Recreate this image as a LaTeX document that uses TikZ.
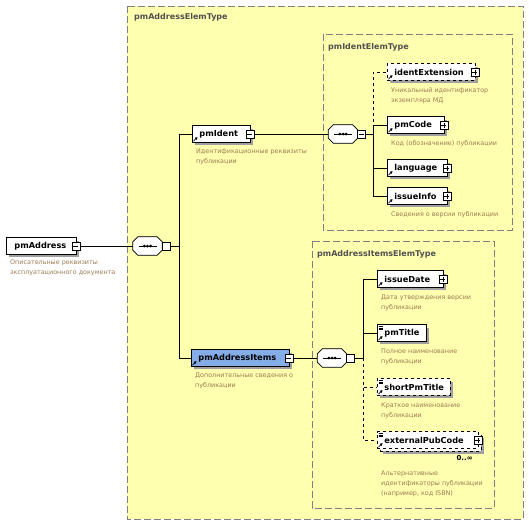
\documentclass[tikz,border=0pt]{standalone}
\usepackage{fontspec}
\setmainfont{DejaVu Sans}
\usetikzlibrary{shadows,arrows.meta}
\definecolor{typefill}{HTML}{FFFFB0}
\definecolor{typeline}{HTML}{7F7F7F}
\definecolor{typetext}{HTML}{505050}
\definecolor{annot}{HTML}{9C7B52}
\definecolor{itemsfill}{HTML}{84ACE6}
\definecolor{shade}{HTML}{A0A0A0}

\begin{document}
\begin{tikzpicture}[x=1pt, y=-1pt,
    elem/.style={draw, fill=white, line width=0.8pt, minimum height=16.5pt, inner xsep=0pt, inner ysep=0pt,
        align=left, font=\fontsize{8.2}{9}\selectfont\bfseries,
        drop shadow={shadow xshift=3pt, shadow yshift=-3pt, fill=shade, opacity=1}},
    optelem/.style={elem, dashed},
    typebox/.style={draw=typeline, fill=typefill, dash pattern=on 7pt off 3pt, line width=0.8pt},
    typename/.style={anchor=north west, text=typetext, inner sep=0pt, font=\fontsize{8}{9}\selectfont\bfseries},
    annotation/.style={anchor=north west, text=annot, align=left, inner sep=0pt, font=\fontsize{6.4}{10}\selectfont},
    seq/.style={minimum width=29pt, minimum height=18pt, inner sep=0pt},
    icon/.style={draw, fill=white, line width=0.6pt, minimum size=8pt, inner sep=0pt},
    minusicon/.style={icon, path picture={
            \draw ([xshift=1.5pt]path picture bounding box.west) -- ([xshift=-1.5pt]path picture bounding box.east);}},
    plusicon/.style={icon, path picture={
            \draw ([xshift=1.5pt]path picture bounding box.west) -- ([xshift=-1.5pt]path picture bounding box.east);
            \draw ([yshift=1.5pt]path picture bounding box.south) -- ([yshift=-1.5pt]path picture bounding box.north);}},
    conn/.style={line width=0.8pt}
]
    \useasboundingbox (0,0) rectangle (529,527);

    % type boxes
    \draw[typebox] (127,6) rectangle (523,519);
    \node[typename] (addrType) at (134,13) {pmAddressElemType};
    \draw[typebox] (323,34) rectangle (512,230);
    \node[typename] (identType) at (328,43) {pmIdentElemType};
    \draw[typebox] (312,241) rectangle (494,508);
    \node[typename] (itemsType) at (317,250) {pmAddressItemsElemType};

    % elements
    \node[elem, anchor=west, text width=70pt] (pmAddress) at (6,246) {\hspace*{8pt}pmAddress};
    \node[elem, anchor=west, text width=58pt] (pmIdent) at (192,134) {\hspace*{7pt}pmIdent};
    \node[elem, anchor=west, text width=98pt, fill=itemsfill] (pmAddressItems) at (191,358) {\hspace*{7pt}pmAddressItems};

    \node[optelem, anchor=west, text width=88pt] (identExtension) at (387,72) {\hspace*{7pt}identExtension};
    \node[elem, anchor=west, text width=57pt] (pmCode) at (387,125) {\hspace*{7pt}pmCode};
    \node[elem, anchor=west, text width=60pt] (language) at (387,168) {\hspace*{7pt}language};
    \node[elem, anchor=west, text width=60pt] (issueInfo) at (387,196) {\hspace*{7pt}issueInfo};

    \node[elem, anchor=west, text width=66pt] (issueDate) at (377,279) {\hspace*{7pt}issueDate};
    \node[elem, anchor=west, text width=49pt] (pmTitle) at (377,333) {\hspace*{7pt}pmTitle};
    \node[optelem, anchor=west, text width=73pt] (shortPmTitle) at (377,387) {\hspace*{7pt}shortPmTitle};
    \node[optelem, anchor=west, text width=101pt,
        drop shadow={shadow xshift=6pt, shadow yshift=-6pt, fill=shade, opacity=1},
        copy shadow={shadow xshift=3pt, shadow yshift=-3pt}] (externalPubCode) at (377,440) {\hspace*{7pt}externalPubCode};
    \node[anchor=north east, inner sep=0pt, font=\fontsize{7}{8}\selectfont\bfseries] (extMult)
        at ([shift={(-6pt,-6pt)}]externalPubCode.south east) {0..∞};

    % expand icons
    \node[minusicon] (pmAddressIc) at ([xshift=-1pt]pmAddress.east) {};
    \node[minusicon] (pmIdentIc) at ([xshift=-1pt]pmIdent.east) {};
    \node[minusicon] (pmAddressItemsIc) at ([xshift=-1pt]pmAddressItems.east) {};
    \foreach \n in {identExtension, pmCode, language, issueInfo, issueDate, externalPubCode}
        \node[plusicon] (\n Ic) at ([xshift=-1pt]\n.east) {};

    % reference arrows and text marks
    \foreach \n in {pmIdent, pmAddressItems, identExtension, pmCode, language, issueInfo, issueDate, pmTitle, shortPmTitle, externalPubCode}
        \draw[-{Triangle[length=2.5pt,width=2.8pt]}, line width=0.7pt] ([shift={(1.5pt,1.5pt)}]\n.south west) -- ([shift={(5.5pt,5.5pt)}]\n.south west);
    \foreach \n in {pmTitle, shortPmTitle, externalPubCode}
        \foreach \k in {2,3.5,5}
            \draw[line width=0.4pt] ([shift={(1.5pt,-\k pt)}]\n.north west) -- ([shift={(5.5pt,-\k pt)}]\n.north west);

    % compositors
    \node[seq] (seq1) at (147.5,246) {};
    \node[seq] (seq2) at (343,134) {};
    \node[seq] (seq3) at (332,358) {};
    \foreach \s in {seq1, seq2, seq3} {
        \fill[shade, shift={(3pt,-3pt)}] ([xshift=5pt]\s.north west) -- ([xshift=-5pt]\s.north east) -- ([yshift=-5pt]\s.north east)
            -- ([yshift=5pt]\s.south east) -- ([xshift=-5pt]\s.south east) -- ([xshift=5pt]\s.south west)
            -- ([yshift=5pt]\s.south west) -- ([yshift=-5pt]\s.north west) -- cycle;
        \draw[fill=white, line width=0.8pt] ([xshift=5pt]\s.north west) -- ([xshift=-5pt]\s.north east) -- ([yshift=-5pt]\s.north east)
            -- ([yshift=5pt]\s.south east) -- ([xshift=-5pt]\s.south east) -- ([xshift=5pt]\s.south west)
            -- ([yshift=5pt]\s.south west) -- ([yshift=-5pt]\s.north west) -- cycle;
        \draw[line width=0.8pt] ([xshift=-9pt]\s.center) -- ([xshift=9pt]\s.center);
        \foreach \d in {-3.2,0,3.2}
            \fill ([xshift=\d pt]\s.center) circle (1.5pt);
    }
    \node[icon] (seq1Ic) at ([xshift=4pt]seq1.east) {};
    \node[minusicon] (seq2Ic) at ([xshift=4pt]seq2.east) {};
    \node[icon] (seq3Ic) at ([xshift=4pt]seq3.east) {};

    % connectors
    \coordinate (bus1) at (179,246);
    \coordinate (bus2) at (373,134);
    \coordinate (bus3) at (363,358);
    \draw[conn] (pmAddressIc) -- (seq1);
    \draw[conn] (seq1Ic) -- (bus1);
    \draw[conn] (bus1) |- (pmIdent);
    \draw[conn] (bus1) |- (pmAddressItems);

    \draw[conn] (pmIdentIc) -- (seq2);
    \draw[conn, dashed] (bus2) |- (identExtension);
    \draw[conn] (seq2Ic) -- (bus2);
    \foreach \n in {pmCode, language, issueInfo}
        \draw[conn] (bus2) |- (\n);

    \draw[conn] (pmAddressItemsIc) -- (seq3);
    \draw[conn, dashed] (bus3) |- (shortPmTitle);
    \draw[conn, dashed] (bus3) |- (externalPubCode);
    \draw[conn] (seq3Ic) -- (bus3);
    \foreach \n in {issueDate, pmTitle}
        \draw[conn] (bus3) |- (\n);

    % annotations
    \node[annotation] (pmAddressDoc) at ([shift={(4pt,-5pt)}]pmAddress.south west) {Описательные реквизиты\\эксплуатационного документа};
    \node[annotation] (pmIdentDoc) at ([shift={(4pt,-6pt)}]pmIdent.south west) {Идентификационные реквизиты\\публикации};
    \node[annotation] (pmAddressItemsDoc) at ([shift={(4pt,-6pt)}]pmAddressItems.south west) {Дополнительные сведения о\\публикации};
    \node[annotation] (identExtensionDoc) at ([shift={(4pt,-7pt)}]identExtension.south west) {Уникальный идентификатор\\экземпляра МД};
    \node[annotation] (pmCodeDoc) at ([shift={(4pt,-7pt)}]pmCode.south west) {Код (обозначение) публикации};
    \node[annotation] (issueInfoDoc) at ([shift={(4pt,-7pt)}]issueInfo.south west) {Сведения о версии публикации};
    \node[annotation] (issueDateDoc) at ([shift={(4pt,-7pt)}]issueDate.south west) {Дата утверждения версии\\публикации};
    \node[annotation] (pmTitleDoc) at ([shift={(4pt,-7pt)}]pmTitle.south west) {Полное наименование\\публикации};
    \node[annotation] (shortPmTitleDoc) at ([shift={(4pt,-7pt)}]shortPmTitle.south west) {Краткое наименование\\публикации};
    \node[annotation] (externalPubCodeDoc) at ([shift={(4pt,-22pt)}]externalPubCode.south west) {Альтернативные\\идентификаторы публикации\\(например, код ISBN)};
\end{tikzpicture}
\end{document}
